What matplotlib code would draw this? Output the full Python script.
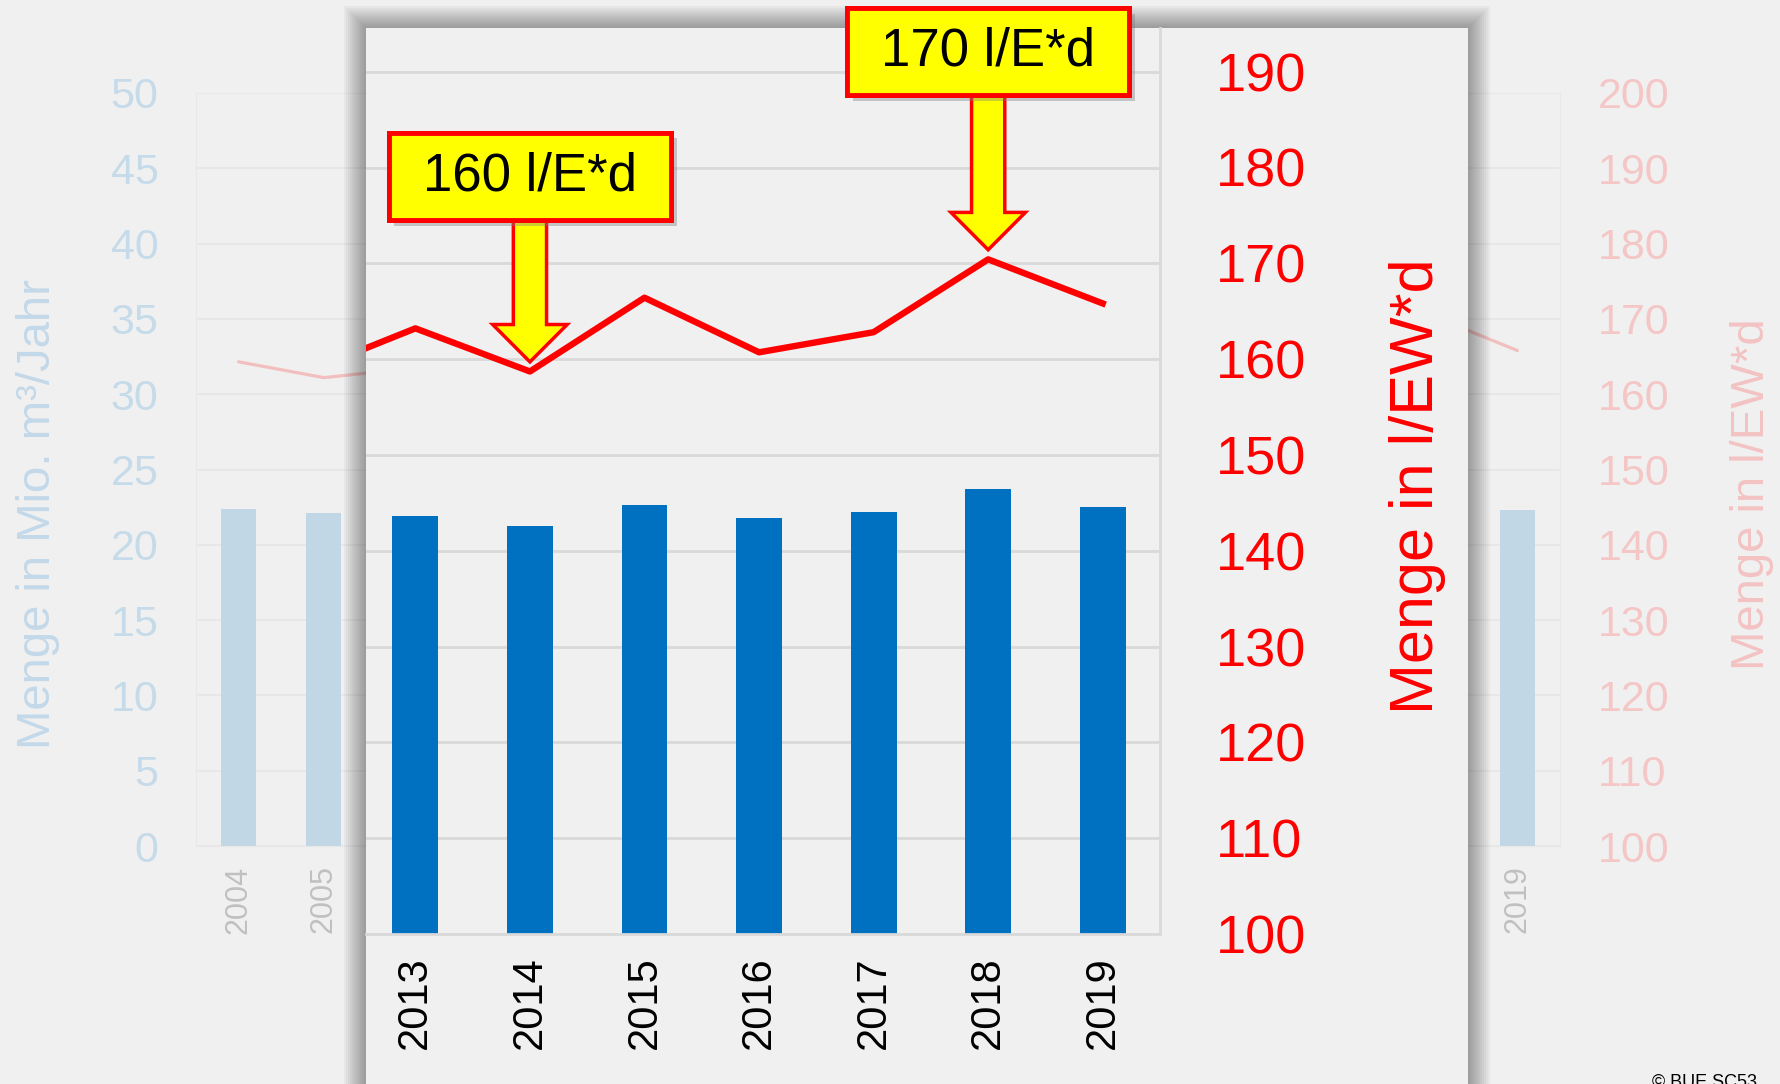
import numpy as np
import matplotlib
matplotlib.use('Agg')
import matplotlib.pyplot as plt
from matplotlib.patches import Rectangle, Polygon
import matplotlib.patheffects as pe

plt.rcParams['font.family'] = ['Liberation Sans', 'DejaVu Sans']

nan = np.nan
years = list(range(2004, 2020))
# Mio. m³/Jahr (bars); years hidden behind the zoom panel are left empty
menge_mio = [22.4, 22.1, nan, nan, nan, nan, nan, nan, nan,
             21.8, 21.3, 22.4, 21.7, 22.0, 23.2, 22.3]
# l/EW*d (line)
menge_ewd = [164.3, 162.2, 163.4, nan, nan, nan, nan, nan, 158.4,
             163.2, 158.7, 166.4, 160.7, 162.8, 170.4, 165.8]

zoom_years = years[8:]          # 2012..2019, 2012 only as cut-off line piece
callouts = [(2014, '160 l/E*d', 15.8), (2018, '170 l/E*d', 17.1)]

W, H = 1780, 1084
fig = plt.figure(figsize=(W / 100, H / 100), dpi=100, facecolor='#f0f0f0')


def fbox(x0, y0, x1, y1):
    # pixel box, origin top left -> figure fraction
    return [x0 / W, 1 - y1 / H, (x1 - x0) / W, (y1 - y0) / H]


# ---- faded background chart ----
ax_bg = fig.add_axes(fbox(196, 93, 1560, 846), zorder=0)
ax_bg.set_facecolor('none')
xb = np.arange(len(years))
ax_bg.bar(xb, menge_mio, width=0.41, color='#c2d7e6', zorder=2)
ax_bg.set_xlim(-0.5, len(years) - 0.5)
ax_bg.set_ylim(0, 50)
ax_bg.set_yticks(range(0, 51, 5))
ax_bg.grid(axis='y', color='#e6e6e6', lw=1.2)
ax_bg.set_axisbelow(True)
ax_bg.set_xticks(xb)
ax_bg.set_xticklabels(years, rotation=90, fontsize=22, color='#c0c0c0')

ax_bg2 = ax_bg.twinx()
ax_bg2.set_zorder(0.5)
ax_bg2.plot(xb, menge_ewd, color='#f2bfbf', lw=2.3, solid_capstyle='round')
ax_bg2.set_ylim(100, 200)
ax_bg2.set_yticks(range(100, 201, 10))
ax_bg2.tick_params(axis='y', length=0, pad=27, labelsize=31, labelcolor='#f5c6c6')
for s in ax_bg2.spines.values():
    s.set_visible(False)

ax_bg.tick_params(axis='x', length=0, pad=14)
ax_bg.tick_params(axis='y', length=0, pad=27, labelsize=31, labelcolor='#c6dbea')
for s in ax_bg.spines.values():
    s.set_color('#e8e8e8')

fig.text(38 / W, 1 - 514 / H, 'Menge in Mio. m³/Jahr', rotation=90, fontsize=34,
         color='#c3d8e8', ha='center', va='center')
fig.text(1752 / W, 1 - 494 / H, 'Menge in l/EW*d', rotation=90, fontsize=34,
         color='#f4c3c3', ha='center', va='center')

# ---- zoom panel with shadow ----
px0, py0, px1, py1 = 366, 28, 1468, 1110
for i in range(11, 0, -1):
    g = 2 * i
    fig.patches.append(Rectangle(((px0 - g) / W, 1 - (py1 + g) / H),
                                 (px1 - px0 + 2 * g) / W, (py1 - py0 + 2 * g) / H,
                                 transform=fig.transFigure, facecolor='black',
                                 alpha=0.037, edgecolor='none', zorder=1))
fig.patches.append(Rectangle((px0 / W, 1 - py1 / H), (px1 - px0) / W, (py1 - py0) / H,
                             transform=fig.transFigure, facecolor='#f0f0f0',
                             edgecolor='none', zorder=1.5))

ax_p = fig.add_axes(fbox(366, 28.4, 1160, 934), zorder=2)
ax_p.patch.set_visible(False)
xz = np.arange(len(zoom_years)) - 1
ax_p.bar(xz[1:], menge_mio[9:], width=0.40, color='#0070c0', zorder=2)
ax_p.set_xlim(-0.431, 6.5)
ax_p.set_ylim(0, 47.26)
ax_p.set_yticks(range(0, 50, 5))
ax_p.grid(axis='y', color='#d9d9d9', lw=2)
ax_p.set_axisbelow(True)
ax_p.set_xticks(xz[1:])
ax_p.set_xticklabels(zoom_years[1:], rotation=90, fontsize=30)

ax_p2 = ax_p.twinx()
ax_p2.set_zorder(3)
ax_p2.plot(xz, menge_ewd[8:], color='#ff0000', lw=4.6)
ax_p2.set_ylim(100, 194.5)
ax_p2.set_yticks(range(100, 191, 10))
ax_p2.tick_params(axis='y', length=0, pad=40, labelsize=39, labelcolor='#ff0000')
for s in ax_p2.spines.values():
    s.set_visible(False)

# twinx turns the host's left ticks back on, so style the host afterwards
ax_p.tick_params(axis='y', left=False, labelleft=False, right=False, labelright=False)
ax_p.tick_params(axis='x', length=0, pad=16)
for side in ['left', 'top']:
    ax_p.spines[side].set_visible(False)
for side in ['right', 'bottom']:
    ax_p.spines[side].set_color('#d9d9d9')
    ax_p.spines[side].set_linewidth(2)

fig.text(1418 / W, 1 - 486.5 / H, 'Menge in l/EW*d', rotation=90, fontsize=44,
         color='#ff0000', ha='center', va='center')

# ---- callouts ----
for yr, txt, lift in callouts:
    xi = zoom_years.index(yr) - 1
    v = menge_ewd[years.index(yr)]
    tip = v + 1.0
    head = tip + 3.9
    bot = v + lift
    sw, hw = 0.145, 0.325
    arrow = Polygon([(xi - sw, bot + 1), (xi - sw, head), (xi - hw, head), (xi, tip),
                     (xi + hw, head), (xi + sw, head), (xi + sw, bot + 1)],
                    closed=True, facecolor='#ffff00', edgecolor='#ff0000', lw=2.5,
                    clip_on=False, zorder=5, joinstyle='miter')
    ax_p2.add_patch(arrow)
    box = Rectangle((xi - 1.232, bot), 2.464, 9.1, facecolor='#ffff00',
                    edgecolor='#ff0000', lw=3.5, clip_on=False, zorder=6)
    box.set_path_effects([pe.withSimplePatchShadow(offset=(4, -4), shadow_rgbFace='gray',
                                                   alpha=0.4), pe.Normal()])
    ax_p2.add_patch(box)
    ax_p2.text(xi, bot + 4.55, txt, fontsize=38, ha='center', va='center',
               color='black', zorder=7, clip_on=False)

fig.text(1652 / W, 1 - 1074 / H, '© BUE SC53', fontsize=13, ha='left', va='top')

fig.savefig('out.png', dpi=100, facecolor=fig.get_facecolor())
